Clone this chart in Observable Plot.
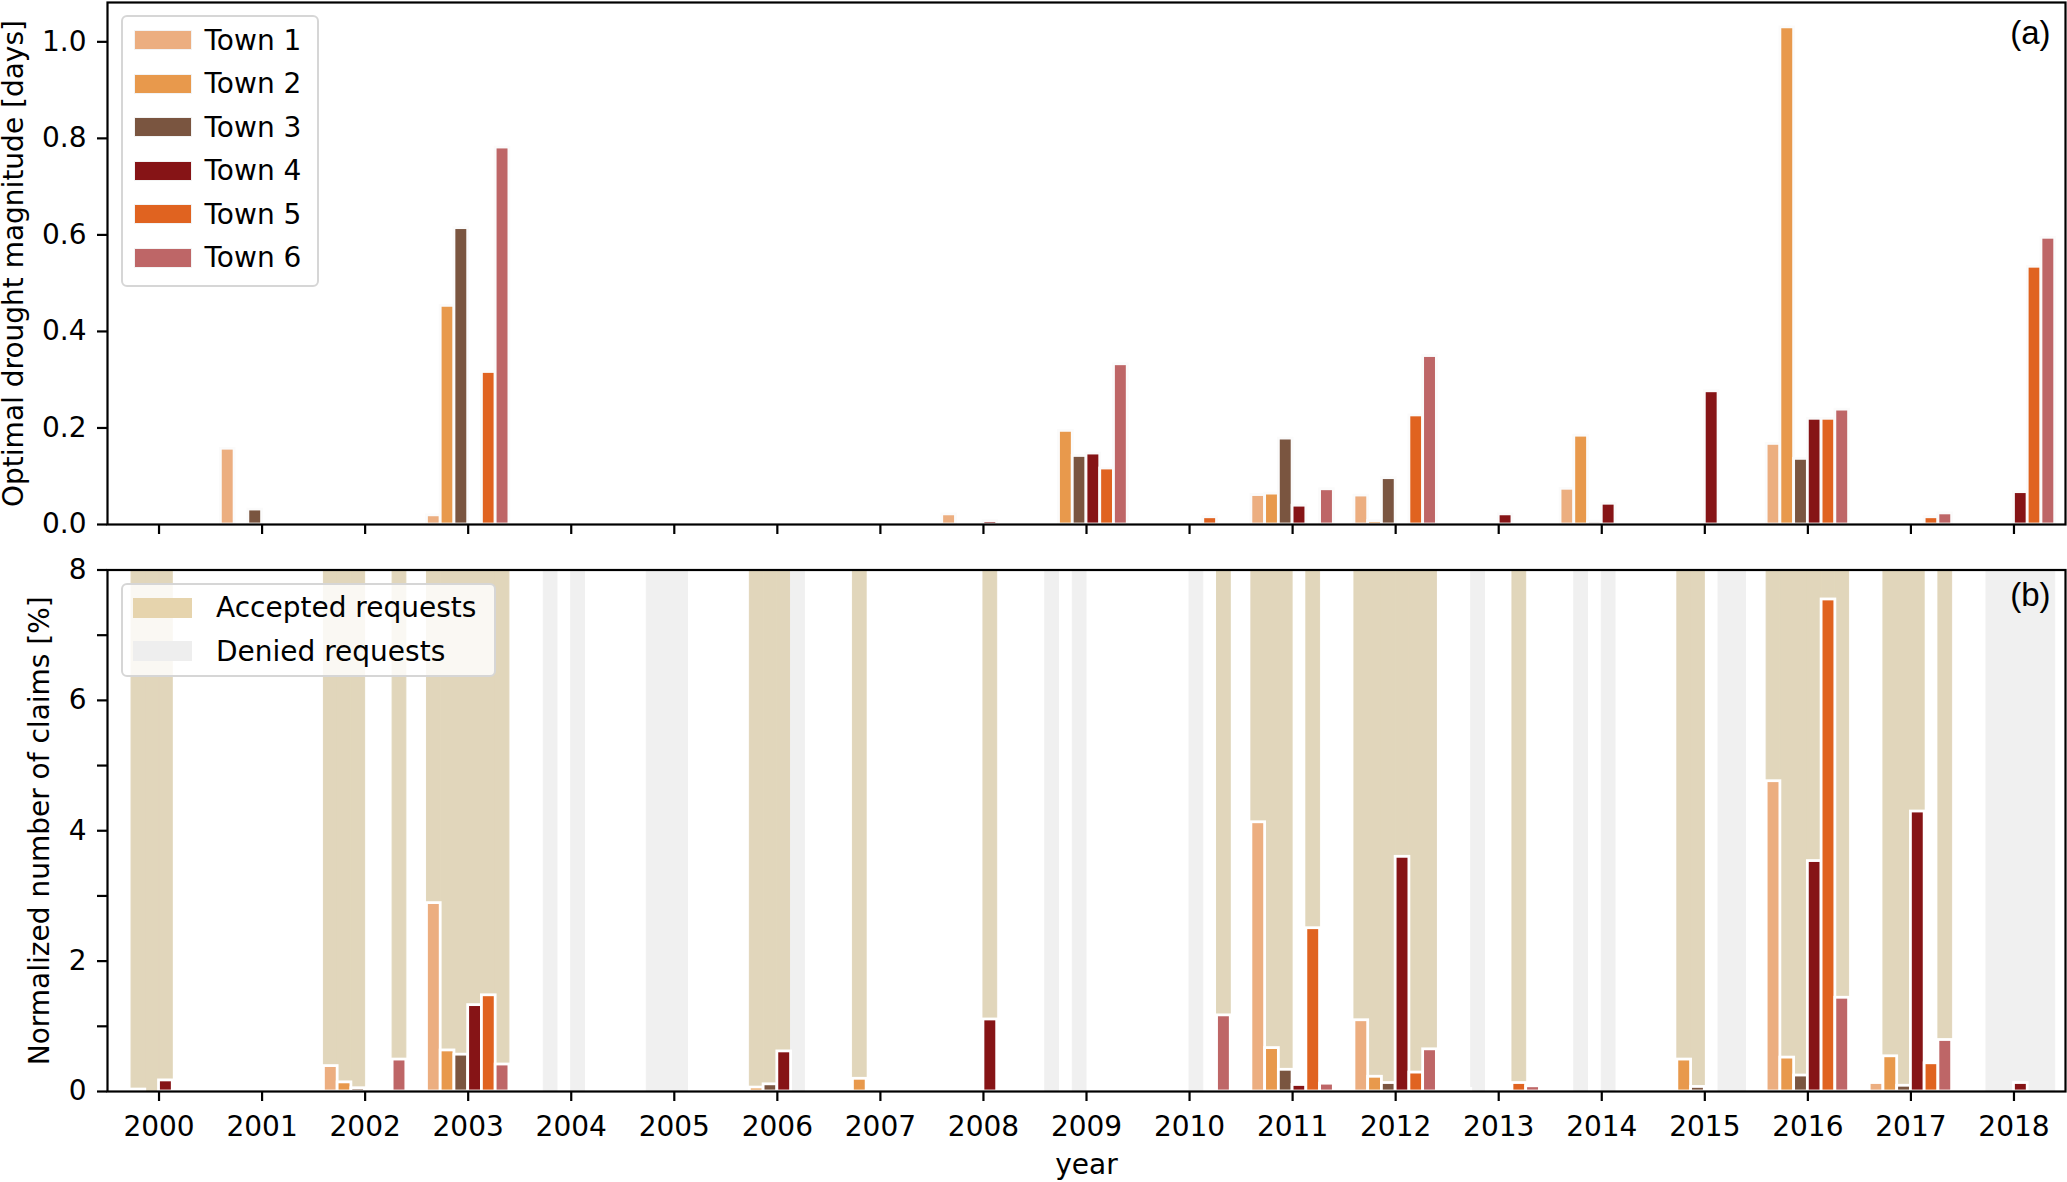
<!DOCTYPE html>
<html>
<head>
<meta charset="utf-8">
<script src="https://cdn.jsdelivr.net/npm/d3@7"></script>
<script src="https://cdn.jsdelivr.net/npm/@observablehq/plot@0.6"></script>
<style>
  html, body { margin: 0; padding: 0; background: #ffffff; }
  #chart { position: relative; width: 2067px; height: 1182px; font-family: "DejaVu Sans", sans-serif; color: #000; }
  .panel { position: absolute; left: 0; }
  .legend { position: absolute; background: rgba(255,255,255,0.82); border: 2px solid #d6d6d6; border-radius: 6px; box-sizing: border-box; }
  .sw { position: absolute; box-sizing: border-box; border: 1.5px solid #f3f3f3; }
  .lt { position: absolute; font-size: 28px; line-height: 28px; white-space: nowrap; font-family: "DejaVu Sans", sans-serif; }
</style>
</head>
<body>
<div id="chart"></div>
<script>
// ---------------- data ----------------
const years = [2000, 2001, 2002, 2003, 2004, 2005, 2006, 2007, 2008, 2009, 2010, 2011, 2012, 2013, 2014, 2015, 2016, 2017, 2018];
const towns = ["Town 1", "Town 2", "Town 3", "Town 4", "Town 5", "Town 6"];
const townColors = ["#ecae80", "#e8994c", "#7a5540", "#861416", "#e06320", "#be6667"];

// (a) optimal drought magnitude [days], one value per year 2000..2018
const magnitudeTown1 = [0, 0.157, 0, 0.019, 0, 0, 0, 0, 0.021, 0, 0, 0.061, 0.060, 0, 0.074, 0, 0.167, 0, 0];
const magnitudeTown2 = [0, 0, 0, 0.453, 0, 0, 0, 0, 0, 0.194, 0, 0.064, 0.007, 0, 0.184, 0, 1.030, 0, 0];
const magnitudeTown3 = [0, 0.031, 0, 0.614, 0, 0, 0, 0, 0, 0.142, 0, 0.178, 0.096, 0, 0.006, 0, 0.136, 0, 0];
const magnitudeTown4 = [0, 0, 0, 0, 0, 0, 0, 0, 0.007, 0.147, 0, 0.039, 0, 0.021, 0.043, 0.276, 0.219, 0, 0.067];
const magnitudeTown5 = [0, 0, 0, 0.316, 0, 0, 0, 0, 0, 0.116, 0.015, 0, 0.226, 0, 0, 0, 0.219, 0.015, 0.534];
const magnitudeTown6 = [0, 0, 0, 0.781, 0, 0, 0, 0, 0, 0.332, 0, 0.073, 0.349, 0, 0, 0, 0.238, 0.023, 0.594];

// (b) normalized number of claims [%], one value per year 2000..2018
const claimsTown1 = [0, 0, 0.39, 2.89, 0, 0, 0, 0, 0, 0, 0, 4.13, 1.093, 0.04, 0, 0, 4.76, 0.13, 0];
const claimsTown2 = [0.03, 0, 0.14, 0.63, 0, 0, 0.06, 0.195, 0, 0, 0, 0.666, 0.226, 0, 0, 0.49, 0.52, 0.54, 0];
const claimsTown3 = [0, 0, 0.05, 0.565, 0, 0, 0.11, 0, 0, 0, 0, 0.333, 0.13, 0, 0, 0.07, 0.245, 0.088, 0];
const claimsTown4 = [0.17, 0, 0.04, 1.325, 0, 0, 0.615, 0, 1.105, 0, 0, 0.10, 3.60, 0, 0, 0, 3.535, 4.295, 0.13];
const claimsTown5 = [0, 0, 0, 1.476, 0, 0, 0, 0, 0, 0, 0, 2.505, 0.29, 0.13, 0, 0, 7.548, 0.433, 0];
const claimsTown6 = [0, 0, 0.49, 0.414, 0, 0, 0, 0, 0, 0, 1.168, 0.12, 0.647, 0.08, 0, 0, 1.438, 0.79, 0];

// request status per year 2000..2018: "A" accepted, "D" denied, "" none
const requestTown1 = ["", "", "A", "A", "", "", "", "", "", "D", "", "A", "A", "", "", "", "A", "", ""];
const requestTown2 = ["A", "", "A", "A", "D", "D", "A", "A", "", "", "", "A", "A", "D", "D", "A", "A", "A", "D"];
const requestTown3 = ["A", "", "A", "A", "", "D", "A", "", "", "D", "", "A", "A", "", "", "A", "A", "A", "D"];
const requestTown4 = ["A", "", "", "A", "D", "D", "A", "", "A", "", "D", "", "A", "", "D", "", "A", "A", "D"];
const requestTown5 = ["", "", "", "A", "", "", "D", "", "", "", "", "A", "A", "A", "", "D", "A", "", "D"];
const requestTown6 = ["", "", "A", "A", "", "", "", "", "", "", "A", "", "A", "", "", "D", "A", "A", "D"];

const magnitudeTicks = [0, 0.2, 0.4, 0.6, 0.8, 1.0];
const claimTicks = [0, 1, 2, 3, 4, 5, 6, 7, 8];
const claimTickLabels = ["0", "", "2", "", "4", "", "6", "", "8"];
const statusLabels = ["Accepted requests", "Denied requests"];
const statusColors = ["#e1d6bb", "#f0f0f0"];
const statusLegendColors = ["#e6d4ad", "#eeeeee"];

// ---------------- build tables ----------------
const magnitudeSeries = [magnitudeTown1, magnitudeTown2, magnitudeTown3, magnitudeTown4, magnitudeTown5, magnitudeTown6];
const claimsSeries = [claimsTown1, claimsTown2, claimsTown3, claimsTown4, claimsTown5, claimsTown6];
const requestSeries = [requestTown1, requestTown2, requestTown3, requestTown4, requestTown5, requestTown6];

const groupWidth = 0.8;
const slotWidth = groupWidth / towns.length;

function table(series) {
  const out = [];
  series.forEach((vals, i) => vals.forEach((v, j) => {
    out.push({town: towns[i], slot: i, year: years[j], value: v});
  }));
  return out;
}
const magnitudeData = table(magnitudeSeries).filter(d => d.value > 0);
const claimsData = table(claimsSeries).filter(d => d.value > 0);
const requestData = table(requestSeries).filter(d => d.value !== "");

const X1 = d => d.year - groupWidth / 2 + d.slot * slotWidth;
const X2 = d => d.year - groupWidth / 2 + (d.slot + 1) * slotWidth;

const W = 2067;
const xDomain = [1999.5, 2018.5];
const colorScale = {domain: towns, range: townColors};
const baseStyle = {fontFamily: "DejaVu Sans", fontSize: "28px", color: "#000", background: "transparent", overflow: "visible"};
const lw = 2.2;

// ---------------- panel (a) ----------------
const topPlot = Plot.plot({
  width: W, height: 540,
  marginLeft: 107, marginRight: 2, marginTop: 2, marginBottom: 16,
  x: {domain: xDomain},
  y: {domain: [0, 1.0815]},
  color: colorScale,
  style: baseStyle,
  marks: [
    Plot.rect(magnitudeData, {x1: X1, x2: X2, y1: 0, y2: "value", fill: "town", stroke: "#fbfbfb", strokeWidth: 2.8}),
    Plot.frame({stroke: "#000", strokeWidth: lw}),
    Plot.axisY({ticks: magnitudeTicks, tickFormat: d3.format(".1f"), tickSize: 10, tickPadding: 11, strokeWidth: lw, fontSize: 28, label: null}),
    Plot.axisX({ticks: years, tickSize: 10, tickFormat: () => "", strokeWidth: lw, label: null}),
    Plot.text(["Optimal drought magnitude [days]"], {frameAnchor: "left", rotate: -90, dx: -85, textAnchor: "middle", lineAnchor: "bottom", fontSize: 28}),
    Plot.text(["(a)"], {frameAnchor: "top-right", dx: -15, dy: 18, textAnchor: "end", lineAnchor: "top", fontSize: 33, fontFamily: "Liberation Sans"})
  ]
});
topPlot.classList.add("panel");
topPlot.style.top = "0px";

// ---------------- panel (b) ----------------
const bottomPlot = Plot.plot({
  width: W, height: 642,
  marginLeft: 107, marginRight: 2, marginTop: 29.5, marginBottom: 91,
  x: {domain: xDomain},
  y: {domain: [0, 8]},
  color: colorScale,
  style: baseStyle,
  marks: [
    Plot.rect(requestData.filter(d => d.value === "A"), {x1: X1, x2: X2, fill: statusColors[0], stroke: statusColors[0], strokeWidth: 1}),
    Plot.rect(requestData.filter(d => d.value === "D"), {x1: X1, x2: X2, fill: statusColors[1], stroke: statusColors[1], strokeWidth: 1}),
    Plot.rect(claimsData, {x1: X1, x2: X2, y1: 0, y2: "value", fill: "town", stroke: "#ffffff", strokeWidth: 2.8}),
    Plot.frame({stroke: "#000", strokeWidth: lw}),
    Plot.axisY({ticks: claimTicks, tickFormat: (d, i) => claimTickLabels[claimTicks.indexOf(d)], tickSize: 10, tickPadding: 11, strokeWidth: lw, fontSize: 28, label: null}),
    Plot.axisX({ticks: years, tickSize: 10, tickPadding: 15, tickFormat: d => String(d), strokeWidth: lw, fontSize: 28, label: null}),
    Plot.text(["Normalized number of claims [%]"], {frameAnchor: "left", rotate: -90, dx: -59, textAnchor: "middle", lineAnchor: "bottom", fontSize: 28}),
    Plot.text(["year"], {frameAnchor: "bottom", dy: 82.5, textAnchor: "middle", lineAnchor: "bottom", fontSize: 28}),
    Plot.text(["(b)"], {frameAnchor: "top-right", dx: -15, dy: 12.5, textAnchor: "end", lineAnchor: "top", fontSize: 33, fontFamily: "Liberation Sans"})
  ]
});
bottomPlot.classList.add("panel");
bottomPlot.style.top = "540px";

const chart = document.getElementById("chart");
chart.appendChild(topPlot);
chart.appendChild(bottomPlot);

// ---------------- legends ----------------
function legend(box, items) {
  const div = document.createElement("div");
  div.className = "legend";
  Object.assign(div.style, {left: box.left + "px", top: box.top + "px", width: box.width + "px", height: box.height + "px"});
  chart.appendChild(div);
  items.forEach((it, k) => {
    const cy = box.firstCenter + k * box.step;
    const sw = document.createElement("div");
    sw.className = "sw";
    Object.assign(sw.style, {left: box.swLeft + "px", top: (cy - box.swH / 2) + "px", width: box.swW + "px", height: box.swH + "px", background: it.color});
    if (!box.swBorder) sw.style.border = "none";
    chart.appendChild(sw);
    const t = document.createElement("div");
    t.className = "lt";
    t.textContent = it.label;
    Object.assign(t.style, {left: box.textLeft + "px", top: (cy - 13.5) + "px"});
    chart.appendChild(t);
  });
}
legend({left: 121, top: 15, width: 198, height: 272, firstCenter: 40.4, step: 43.5, swLeft: 134, swW: 58, swH: 20, textLeft: 204.5, swBorder: true},
  towns.map((t, i) => ({label: t, color: townColors[i]})));
legend({left: 121, top: 583, width: 375, height: 94, firstCenter: 607.6, step: 43.8, swLeft: 133, swW: 59, swH: 20, textLeft: 216, swBorder: false},
  statusLabels.map((t, i) => ({label: t, color: statusLegendColors[i]})));
</script>
</body>
</html>
